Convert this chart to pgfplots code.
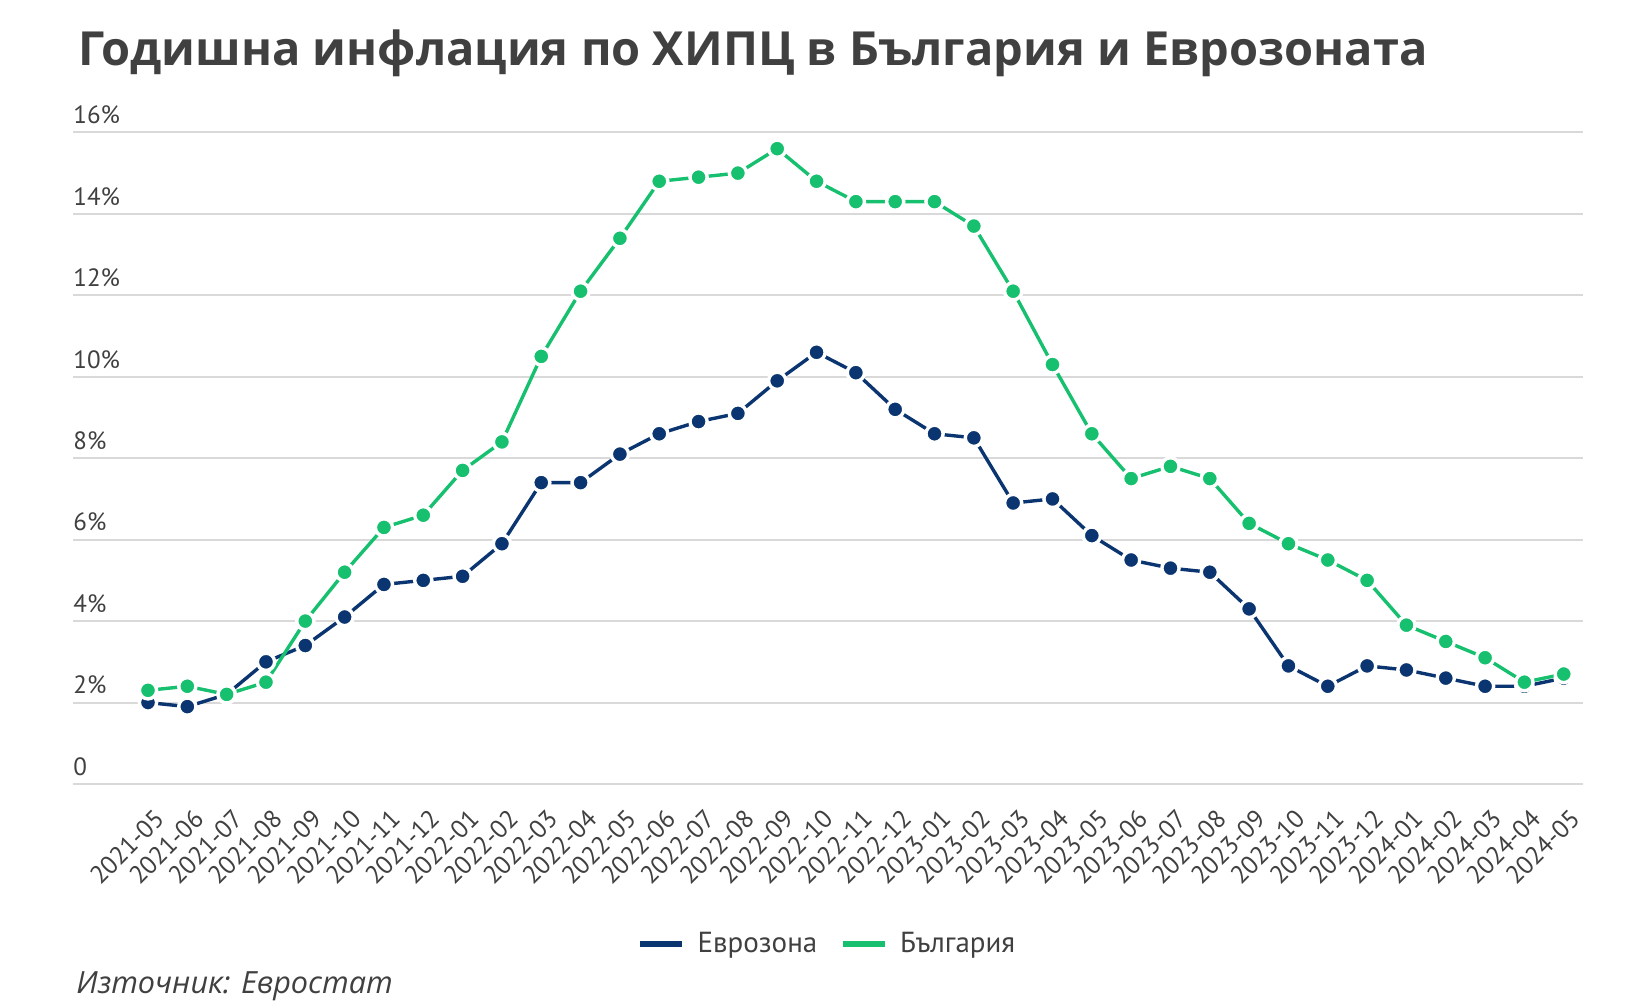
\documentclass[border=0pt]{standalone}
\usepackage{fontspec}
\setmainfont{PT Sans}
\newfontfamily\titlefont{Open Sans}
\usepackage{pgfplots}
\pgfplotsset{compat=1.18}
\definecolor{euro}{RGB}{11,53,112}
\definecolor{bgr}{RGB}{22,192,110}
\definecolor{txt}{RGB}{64,64,64}
\definecolor{gridc}{RGB}{217,217,217}
\pgfplotstableread{
x y
0 2.0
1 1.9
2 2.2
3 3.0
4 3.4
5 4.1
6 4.9
7 5.0
8 5.1
9 5.9
10 7.4
11 7.4
12 8.1
13 8.6
14 8.9
15 9.1
16 9.9
17 10.6
18 10.1
19 9.2
20 8.6
21 8.5
22 6.9
23 7.0
24 6.1
25 5.5
26 5.3
27 5.2
28 4.3
29 2.9
30 2.4
31 2.9
32 2.8
33 2.6
34 2.4
35 2.4
36 2.6
}\euro
\pgfplotstableread{
x y
0 2.3
1 2.4
2 2.2
3 2.5
4 4.0
5 5.2
6 6.3
7 6.6
8 7.7
9 8.4
10 10.5
11 12.1
12 13.4
13 14.8
14 14.9
15 15.0
16 15.6
17 14.8
18 14.3
19 14.3
20 14.3
21 13.7
22 12.1
23 10.3
24 8.6
25 7.5
26 7.8
27 7.5
28 6.4
29 5.9
30 5.5
31 5.0
32 3.9
33 3.5
34 3.1
35 2.5
36 2.7
}\bulg
\begin{document}
\begin{tikzpicture}
\path[use as bounding box] (0pt,0pt) rectangle (817.5pt,501pt);
\node[anchor=base west, inner sep=0pt, text=txt, font=\titlefont\bfseries\fontsize{23.5}{28}\selectfont] at (39pt,468pt) {Годишна инфлация по ХИПЦ в България и Еврозоната};
\node[anchor=base west, inner sep=0pt, text=txt, font=\titlefont\itshape\fontsize{15.3}{18}\selectfont] at (38pt,4pt) {Източник: Евростат};
\begin{axis}[at={(36.5pt,109pt)}, anchor=south west, scale only axis,
  width=755pt, height=325.8pt,
  xmin=-1.907, xmax=36.49, ymin=0, ymax=16,
  clip=false,
  axis line style={draw=none},
  major tick length=0pt,
  ymajorgrids, grid style={gridc, line width=1pt},
  ytick={0,2,...,16},
  yticklabels={0,2\%,4\%,6\%,8\%,10\%,12\%,14\%,16\%},
  yticklabel style={anchor=south west, inner sep=0pt, yshift=4pt, text=txt, font=\fontsize{12.5}{14}\selectfont},
  xtick={0,...,36},
  xticklabels={2021-05,2021-06,2021-07,2021-08,2021-09,2021-10,2021-11,2021-12,2022-01,2022-02,2022-03,2022-04,2022-05,2022-06,2022-07,2022-08,2022-09,2022-10,2022-11,2022-12,2023-01,2023-02,2023-03,2023-04,2023-05,2023-06,2023-07,2023-08,2023-09,2023-10,2023-11,2023-12,2024-01,2024-02,2024-03,2024-04,2024-05},
  xticklabel style={rotate=45, anchor=north east, inner sep=0pt, xshift=-6.5pt, yshift=-10pt, text=txt, font=\fontsize{12.7}{14}\selectfont},
  legend style={draw=none, fill=none, at={(0.5,-0.2455)}, anchor=center, font=\fontsize{14.5}{16}\selectfont, text=txt,
    /tikz/every even column/.append style={column sep=9pt}},
  legend columns=2,
  legend image code/.code={\draw[#1, line width=3.2pt, mark=none] (0pt,0pt) -- (21pt,0pt); \path (26pt,0pt);},
  every axis plot/.append style={line width=1.7pt, mark=*, mark size=4.3pt, mark options={draw=white, line width=1.4pt}},
]
\addplot[color=euro, mark options={fill=euro, draw=white}] table {\euro};
\addlegendentry{Еврозона}
\addplot[color=bgr, mark options={fill=bgr, draw=white}] table {\bulg};
\addlegendentry{България}
\end{axis}
\end{tikzpicture}
\end{document}
